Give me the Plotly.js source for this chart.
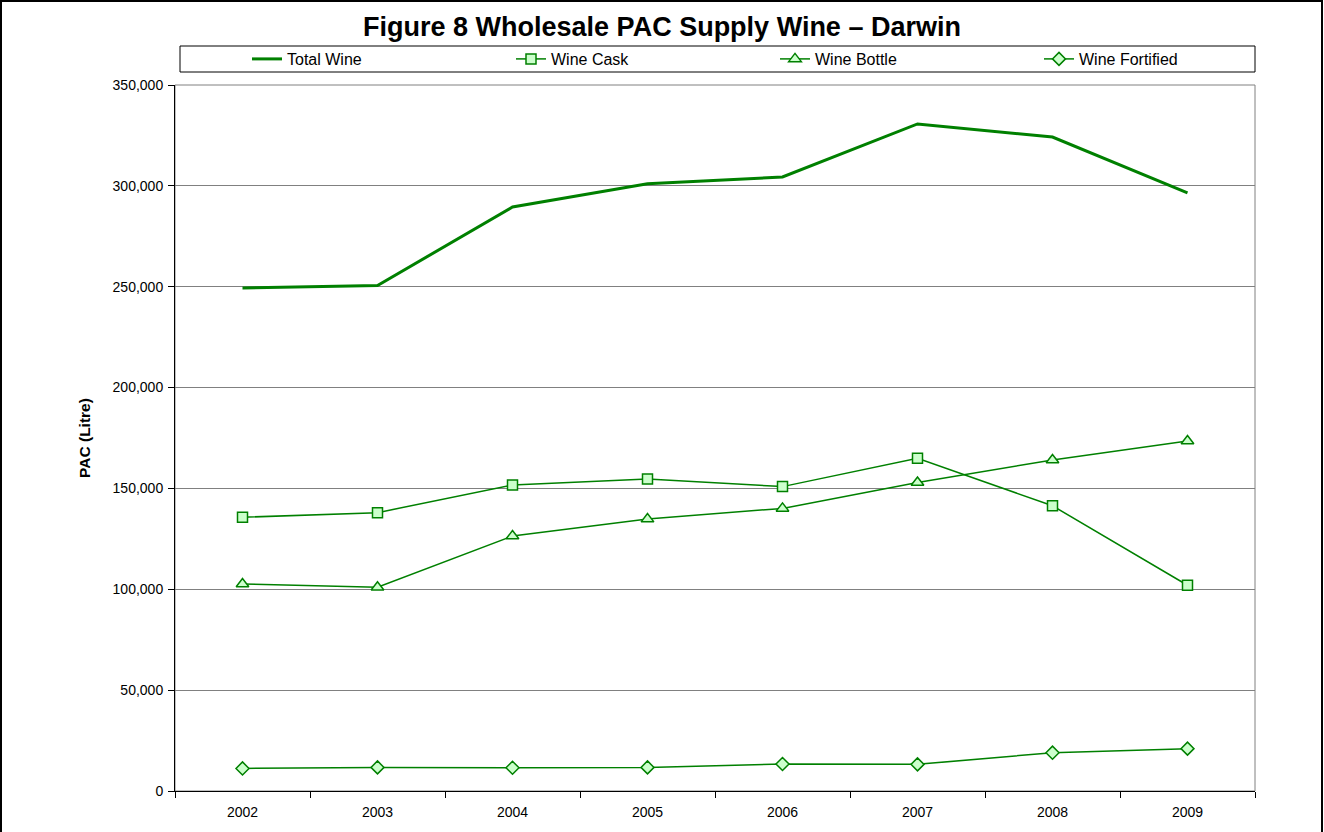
<!DOCTYPE html>
<html>
<head>
<meta charset="utf-8">
<script src="https://cdn.plot.ly/plotly-3.0.1.min.js"></script>
<style>
html,body{margin:0;padding:0;background:#fff;}
#chart{width:1324px;height:832px;}
</style>
</head>
<body>
<div id="chart"></div>
<script>
const years = ["2002","2003","2004","2005","2006","2007","2008","2009"];
const totalWine = [249400, 250600, 289500, 301000, 304400, 330700, 324200, 296500];
const wineCask = [135700, 138000, 151700, 154700, 150900, 164900, 141400, 102000];
const wineBottle = [102600, 101000, 126400, 134800, 140100, 152900, 164100, 173500];
const wineFortified = [11200, 11700, 11500, 11700, 13400, 13200, 19000, 21000];

const green = "#008000";
const fill = "#ccffcc";

const traces = [
  {x: years, y: totalWine, name: "Total Wine", type: "scatter", mode: "lines",
   line: {color: green, width: 3}},
  {x: years, y: wineCask, name: "Wine Cask", type: "scatter", mode: "lines+markers",
   line: {color: green, width: 1.5},
   marker: {symbol: "square", size: 10, color: fill, line: {color: green, width: 1.5}}},
  {x: years, y: wineBottle, name: "Wine Bottle", type: "scatter", mode: "lines+markers",
   line: {color: green, width: 1.5},
   marker: {symbol: "triangle-up", size: 11, color: fill, line: {color: green, width: 1.5}}},
  {x: years, y: wineFortified, name: "Wine Fortified", type: "scatter", mode: "lines+markers",
   line: {color: green, width: 1.5},
   marker: {symbol: "diamond", size: 10, color: fill, line: {color: green, width: 1.5}}}
];

const layout = {
  width: 1324, height: 832,
  margin: {l: 175, r: 69, t: 85, b: 41, pad: 0},
  paper_bgcolor: "#ffffff", plot_bgcolor: "#ffffff",
  font: {family: "Arial, 'Liberation Sans', sans-serif", color: "#000", size: 14},
  title: {text: "<b>Figure 8 Wholesale PAC Supply Wine – Darwin</b>",
          font: {size: 27, color: "#000"}, x: 0.5, xref: "container", xanchor: "center",
          y: 1 - 27/832, yref: "container", yanchor: "middle"},
  showlegend: true,
  legend: {orientation: "h", x: (247-175)/1080, xanchor: "left", y: (791-59)/706, yanchor: "middle",
           entrywidth: 219, entrywidthmode: "pixels", font: {size: 16, color: "#000"},
           bgcolor: "rgba(0,0,0,0)", borderwidth: 0, traceorder: "normal"},
  xaxis: {type: "category", range: [-0.5, 7.5], showgrid: false, zeroline: false,
          showline: true, linecolor: "#000", linewidth: 1,
          ticks: "outside", ticklen: 6, tickcolor: "#000", tickson: "boundaries",
          ticklabelstandoff: 8,
          tickfont: {size: 14, color: "#000"}, fixedrange: true},
  yaxis: {range: [0, 350000], tickvals: [0,50000,100000,150000,200000,250000,300000,350000],
          tickformat: ",d", showgrid: true, gridcolor: "#808080", gridwidth: 1, zeroline: false,
          showline: true, linecolor: "#000", linewidth: 1,
          ticks: "outside", ticklen: 6, tickcolor: "#000", ticklabelstandoff: 2,
          tickfont: {size: 14, color: "#000"},
          title: {text: "<b>PAC (Litre)</b>", font: {size: 15.5, color: "#000"}, standoff: 18},
          fixedrange: true},
  shapes: [
    {type: "rect", xref: "paper", yref: "paper", x0: 0, x1: 1, y0: 0, y1: 1,
     line: {color: "#808080", width: 1}, layer: "below"},
    {type: "rect", xref: "paper", yref: "paper", x0: 5/1080, x1: 1, y0: (791-72)/706, y1: (791-46)/706,
     line: {color: "#000", width: 1}, fillcolor: "rgba(0,0,0,0)"},
    {type: "rect", xref: "paper", yref: "paper", x0: (1-175)/1080, x1: (1322-175)/1080,
     y0: -0.2, y1: (791-1)/706, line: {color: "#000", width: 2}, fillcolor: "rgba(0,0,0,0)"}
  ]
};

Plotly.newPlot("chart", traces, layout, {displayModeBar: false, staticPlot: true});
</script>
</body>
</html>
